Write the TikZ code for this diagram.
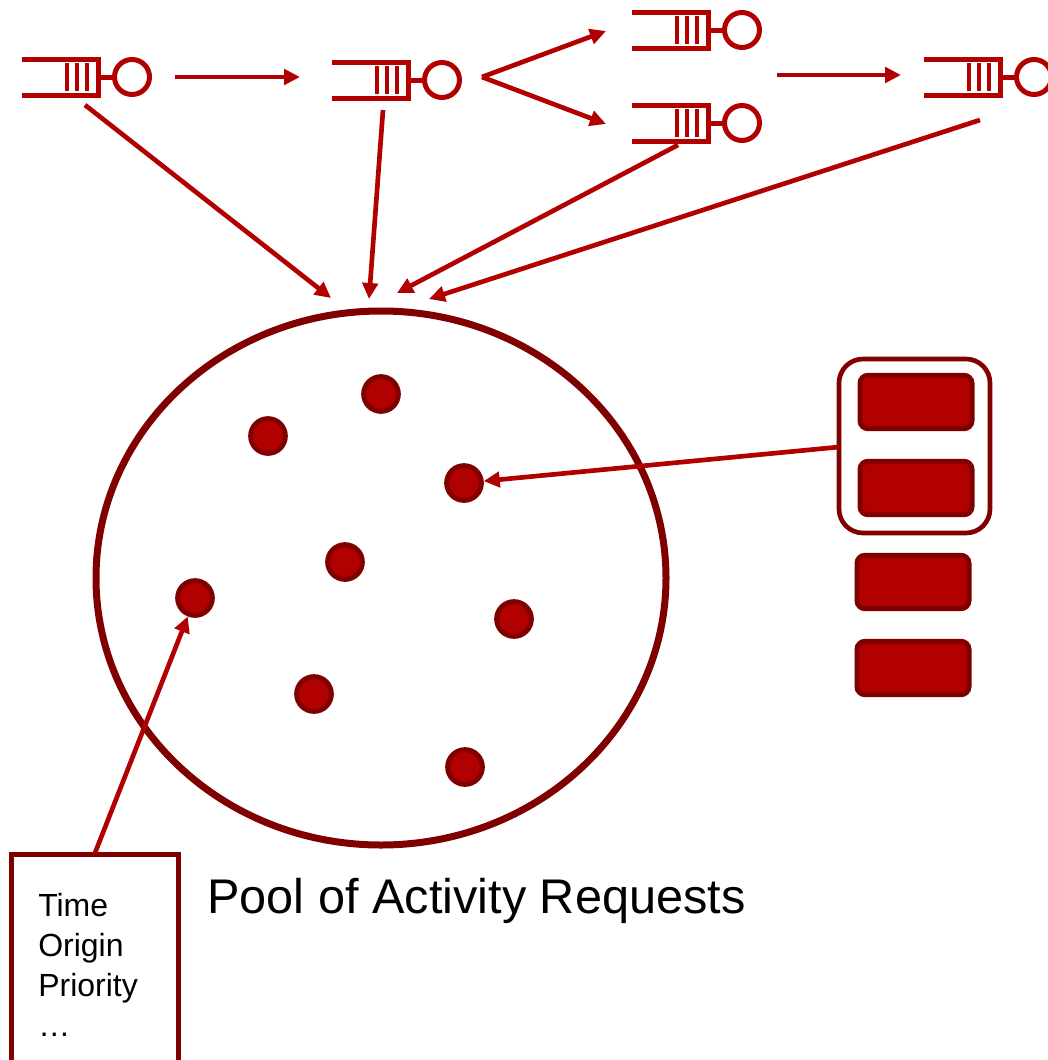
\documentclass[tikz,border=0pt]{standalone}
\usepackage{fontspec}
\setmainfont{Liberation Sans}
\usetikzlibrary{arrows.meta}
\definecolor{qred}{RGB}{178,0,0}
\definecolor{pooldark}{RGB}{128,0,0}

\begin{document}
\begin{tikzpicture}[
	x=0.75pt,y=-0.75pt,
	flow/.style={draw=qred,line width=3.5pt,-{Triangle[length=12pt,width=11.5pt]}},
	request/.style={circle,draw=pooldark,fill=qred,line width=3.75pt,minimum size=26pt,inner sep=0pt},
	slot/.style={rectangle,rounded corners=6pt,draw=pooldark,fill=qred,line width=3.75pt,
		minimum width=84pt,minimum height=40pt,inner sep=0pt},
	queue/.pic={
		\draw[qred,line width=3.75pt] (0,-18) -| (76,18) -- (0,18);
		\foreach \bx in {45,55,65}
			\draw[qred,line width=3.4pt] (\bx,-14) -- (\bx,14);
		\draw[qred,line width=3.75pt] (76,0) -- (92,0);
		\draw[qred,line width=3.75pt] (110,0) circle (17.5);
		\coordinate (-in) at (0,0);
	}]
\useasboundingbox (0,0) rectangle (1048,1060);

% queues
\pic (q1) at (22,77) {queue};
\pic (q2) at (332,80) {queue};
\pic (q3) at (632,30) {queue};
\pic (q4) at (632,123) {queue};
\pic (q5) at (924,77) {queue};

% arrow ends
\coordinate (a1) at (175,77);   \coordinate (b1) at (300,77);
\coordinate (fork) at (482,77);
\coordinate (b3) at (606,31);   \coordinate (b4) at (606,124);
\coordinate (a5) at (777,75);   \coordinate (b5) at (901,75);
\coordinate (s1) at (85,105);   \coordinate (t1) at (331,298);
\coordinate (s2) at (383,110);  \coordinate (t2) at (369,299);
\coordinate (s4) at (678,145);  \coordinate (t4) at (397,293);
\coordinate (s5) at (980,120);  \coordinate (t5) at (429,299);

\draw[flow] (a1) -- (b1);
\draw[flow] (fork) -- (b3);
\draw[flow] (fork) -- (b4);
\draw[flow] (a5) -- (b5);
\draw[flow] (s1) -- (t1);
\draw[flow] (s2) -- (t2);
\draw[flow] (s4) -- (t4);
\draw[flow] (s5) -- (t5);

% pool
\draw[pooldark,line width=5.25pt] (381,578) ellipse (285 and 267);
\node[request] (d1) at (381,394) {};
\node[request] (d2) at (268,436) {};
\node[request] (d3) at (464,483) {};
\node[request] (d4) at (345,562) {};
\node[request] (d5) at (195,598) {};
\node[request] (d6) at (514,619) {};
\node[request] (d7) at (314,694) {};
\node[request] (d8) at (465,767) {};
\node[anchor=base west,font=\fontsize{36.5}{40}\selectfont,inner sep=0pt] (poollabel) at (207,913) {Pool of Activity Requests};

% incoming requests
\node[slot] (r1) at (916,402) {};
\node[slot] (r2) at (916,488) {};
\node[slot] (r3) at (913,582) {};
\node[slot] (r4) at (913,668) {};
\draw[pooldark,line width=3.5pt,rounded corners=18pt] (839,359) rectangle (990,533);
\coordinate (batch) at (839,447);
\draw[flow] (batch) -- (d3);

% attributes
\draw[pooldark,line width=3.75pt] (11,1080) |- (178,854) -- (178,1080);
\node[anchor=north west,align=left,inner sep=0pt,
	font=\fontsize{24}{30}\selectfont] (attrs) at (38,893) {Time\\Origin\\Priority\\\ldots};
\coordinate (attrtop) at (95,853);
\draw[flow] (attrtop) -- (d5);
\end{tikzpicture}
\end{document}
